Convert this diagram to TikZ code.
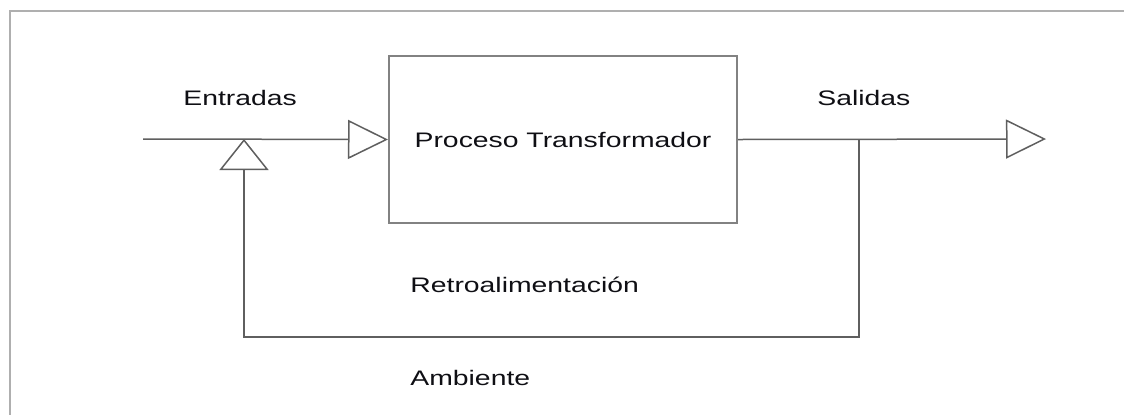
\documentclass[tikz,border=0pt]{standalone}
\usepackage{fontspec}
\setmainfont{Liberation Sans}[FakeStretch=1.35]
\usetikzlibrary{arrows.meta}
\definecolor{linegray}{RGB}{95,95,95}
\definecolor{boxgray}{RGB}{130,130,130}
\definecolor{framegray}{RGB}{175,175,175}
\definecolor{txt}{RGB}{15,15,20}
\tikzset{
  x=0.5pt, y=-0.5pt,
  conn/.style={draw=linegray, line width=0.75pt},
  tipflat/.style={-{Triangle[open, length=20pt, width=19.5pt]}},
  tipup/.style={-{Triangle[open, length=15.5pt, width=24.5pt]}},
  procbox/.style={draw=boxgray, line width=1pt, minimum width=174pt, minimum height=83.5pt, inner sep=0pt, text=txt, font=\fontsize{10.5pt}{12pt}\selectfont},
  lbl/.style={anchor=base west, inner sep=0pt, text=txt, font=\fontsize{10.5pt}{12pt}\selectfont}
}
\begin{document}
\begin{tikzpicture}
\useasboundingbox (0,0) rectangle (1124,414);
\clip (0,0) rectangle (1124,414);
\fill[white] (0,0) rectangle (1124,414);
\draw[framegray, line width=1pt] (10,11) rectangle (1140,430);

\node[procbox] (proc) at (563,139.5) {Proceso Transformador};

\coordinate (in) at (143,139);
\coordinate (mix) at (244,139);
\coordinate (junc) at (859,139);
\coordinate (out) at (1046,139);
\coordinate (fbR) at (859,337);
\coordinate (fbL) at (244,337);

\draw[conn, tipflat] (in) -- (proc.west);
\draw[conn, tipflat] (proc.east) -- (out);
\draw[conn, tipup] (junc) -- (fbR) -- (fbL) -- (mix);

\node[lbl] (entr) at (183,105) {Entradas};
\node[lbl] (sal) at (817,105) {Salidas};
\node[lbl] (retro) at (410,292) {Retroalimentación};
\node[lbl] (amb) at (410,385) {Ambiente};
\end{tikzpicture}
\end{document}
